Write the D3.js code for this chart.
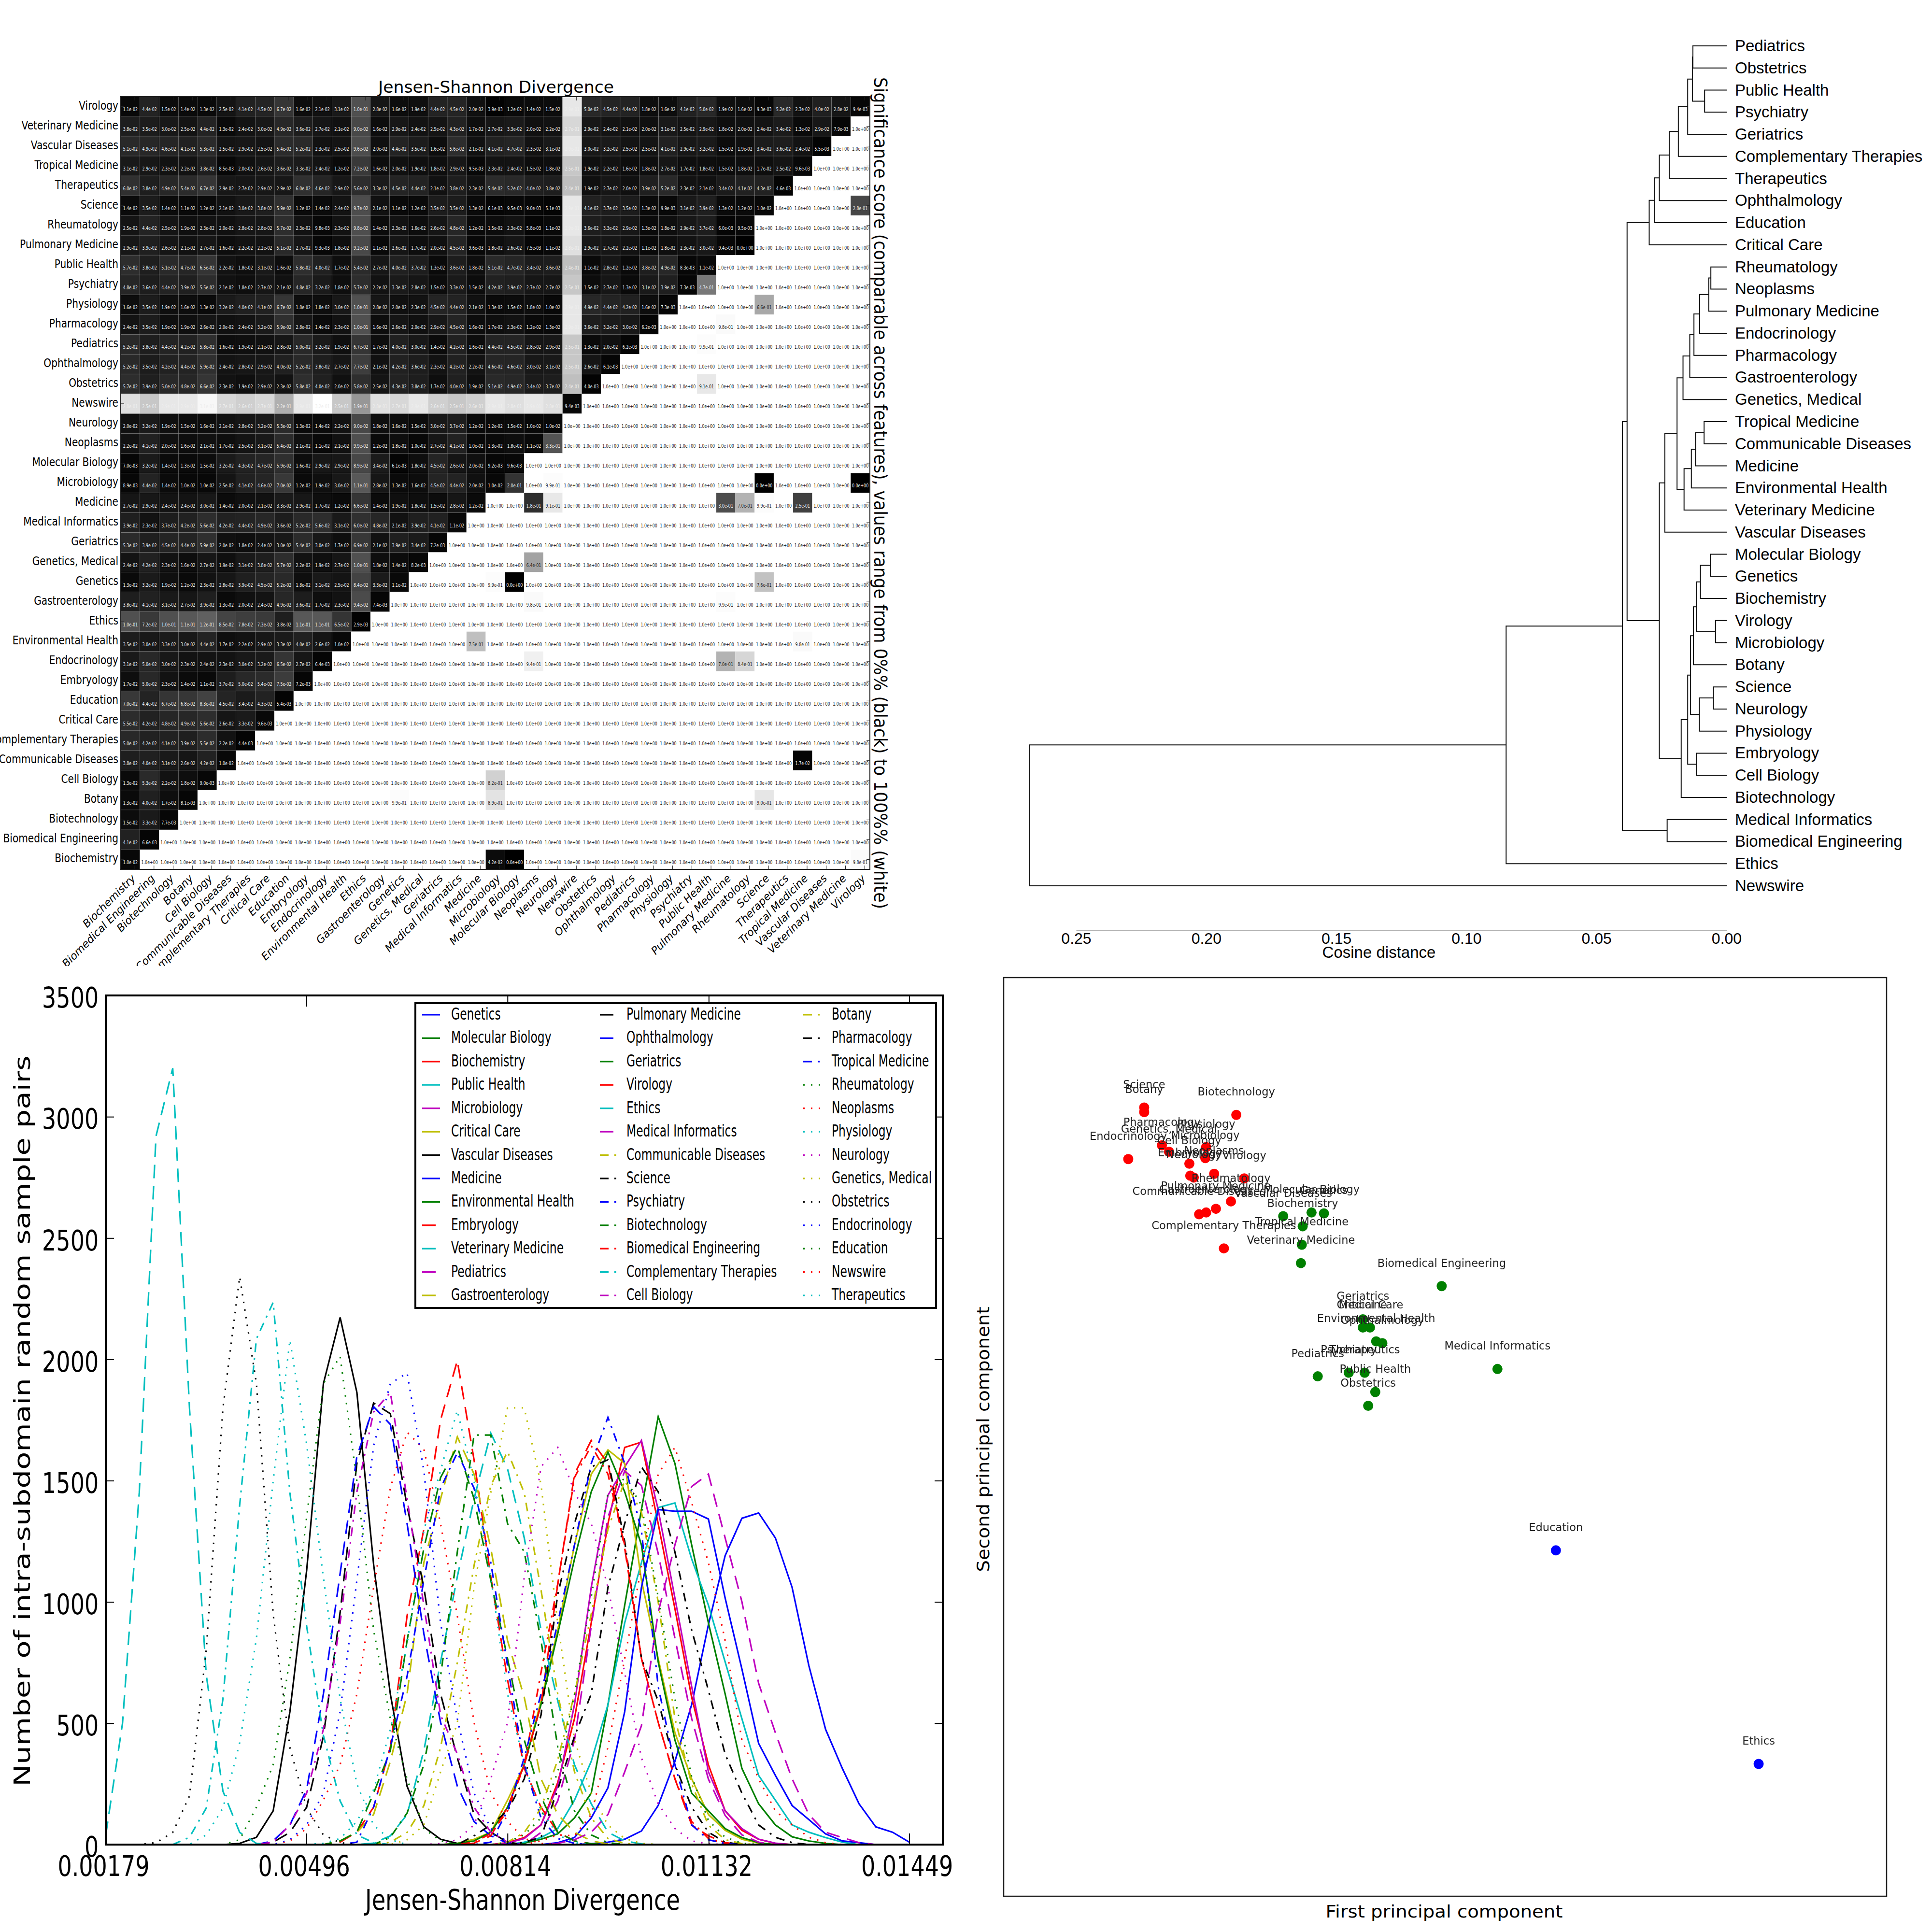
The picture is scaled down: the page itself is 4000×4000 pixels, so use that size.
<!DOCTYPE html>
<html>
<head>
<meta charset="utf-8">
<script src="https://cdn.jsdelivr.net/npm/d3@7/dist/d3.min.js"></script>
<style>
  html, body { margin: 0; padding: 0; background: #fff; }
  svg text { font-family: "DejaVu Sans", sans-serif; }
  .helv text { font-family: "Liberation Sans", sans-serif; }
</style>
</head>
<body>
<div id="canvas"></div>
<script>
"use strict"

/* heatmap categories */
let rowNames = ["Virology","Veterinary Medicine","Vascular Diseases","Tropical Medicine","Therapeutics","Science","Rheumatology","Pulmonary Medicine","Public Health","Psychiatry","Physiology","Pharmacology","Pediatrics","Ophthalmology","Obstetrics","Newswire","Neurology","Neoplasms","Molecular Biology","Microbiology","Medicine","Medical Informatics","Geriatrics","Genetics, Medical","Genetics","Gastroenterology","Ethics","Environmental Health","Endocrinology","Embryology","Education","Critical Care","Complementary Therapies","Communicable Diseases","Cell Biology","Botany","Biotechnology","Biomedical Engineering","Biochemistry"];
let colNames = rowNames.slice().reverse();

/* divergence values x 1000, one row per line, the upper left triangle only */
let divRows = [
  [11,44,15,14,13,25,41,45,67,16,21,31,100,28,16,19,44,45,20,3.9,12,14,15,290,50,45,44,18,16,41,50,19,16,9.3,52,23,40,28,9.4],
  [38,35,30,25,44,13,24,30,49,36,27,21,90,16,29,24,25,43,17,27,33,20,22,270,29,24,21,20,31,25,29,18,20,24,34,13,29,7.9],
  [51,49,46,41,53,25,29,25,54,52,23,25,96,20,44,35,16,56,21,41,47,23,31,290,30,32,25,25,41,29,32,15,19,34,36,24,5.5],
  [31,29,23,22,38,8.5,20,26,36,33,24,12,72,16,20,19,18,29,9.5,23,24,15,18,250,19,22,16,18,27,17,18,15,18,17,25,9.6],
  [60,38,49,54,67,29,27,29,29,60,46,29,56,33,45,44,21,38,23,54,52,40,38,240,19,27,20,39,52,23,21,34,41,43,4.6],
  [14,35,14,11,12,21,30,38,59,12,14,24,97,21,11,12,35,35,13,6.1,9.5,9.0,5.1,290,41,37,35,13,9.9,31,39,13,12,10],
  [25,44,25,19,23,20,28,28,57,23,9.8,23,98,14,23,16,26,48,12,15,23,5.8,11,290,36,33,29,13,18,29,37,6.0,9.5],
  [29,39,26,21,27,16,22,22,51,27,9.3,18,92,11,26,17,20,45,9.6,18,26,7.5,11,280,29,27,22,11,18,23,30,9.4],
  [57,38,51,47,65,22,18,31,16,58,40,17,54,27,40,37,13,36,18,51,47,34,36,240,11,28,12,38,49,8.3,11],
  [48,36,44,39,55,21,18,27,21,48,32,18,57,22,33,28,15,33,15,42,39,27,27,250,15,27,13,31,39,7.3],
  [16,35,19,16,13,32,40,41,67,18,18,30,100,28,20,23,45,44,21,13,15,18,10,290,49,44,42,16,7.3],
  [24,35,19,19,26,20,24,32,59,28,14,23,100,16,26,20,29,45,16,17,23,12,13,290,36,32,30,6.2],
  [52,38,44,42,58,16,19,21,28,50,32,19,67,17,40,30,14,42,16,44,45,28,29,250,13,20,6.2],
  [52,35,42,44,59,24,28,29,40,52,38,27,77,21,42,36,23,42,22,46,46,30,31,250,26,6.1],
  [57,39,50,48,66,23,19,29,23,58,40,20,58,25,43,38,17,40,19,51,49,34,37,240,4.0],
  [280,250,290,290,310,270,260,270,220,290,320,250,190,280,270,290,260,250,260,290,280,290,280,9.4],
  [20,32,19,15,16,21,28,32,53,13,14,22,90,18,16,15,30,37,12,12,15,10,10],
  [22,41,20,16,21,17,25,31,54,21,11,21,99,12,18,10,27,41,10,13,18,11],
  [7.0,32,14,13,15,32,43,47,59,16,29,29,89,34,6.1,18,45,26,20,9.2,9.6],
  [8.9,44,14,10,10,25,41,46,70,12,19,30,110,28,13,16,45,44,20,10],
  [27,29,24,24,30,14,20,21,33,29,17,12,66,14,19,18,15,28,12],
  [39,23,37,42,56,42,44,49,36,52,56,31,60,48,21,39,41,11],
  [53,39,45,44,59,20,18,24,30,54,30,17,69,21,39,34,7.2],
  [24,42,23,16,27,19,31,38,57,22,19,27,100,18,14,8.2],
  [13,32,19,12,23,28,39,45,52,18,31,25,84,33,11],
  [38,41,31,27,39,13,20,24,49,36,17,23,94,7.4],
  [100,72,100,110,120,85,78,73,38,110,110,65,2.9],
  [35,30,33,30,44,17,22,29,33,40,26,10],
  [31,50,30,23,24,23,30,32,65,27,6.4],
  [17,50,23,14,11,37,50,54,75,7.2],
  [70,44,67,68,83,45,34,43,5.4],
  [55,42,48,49,56,26,33,9.6],
  [50,42,41,39,55,22,4.4],
  [38,40,31,26,42,10],
  [13,53,22,18,9.0],
  [13,40,17,8.1],
  [15,33,7.7],
  [41,6.6],
  [10]
];

/* the few significance cells that are not 1.0: row, column, value */
let sigCells = [
  [5,38,0.28],[7,32,0],[9,30,0.47],[10,33,0.66],[11,31,0.98],[12,30,0.99],[14,30,0.91],
  [17,22,0.33],[19,20,0.20],[19,22,0.99],[19,33,0],[19,38,0],
  [20,21,0.18],[20,22,0.91],[20,31,0.30],[20,32,0.70],[20,33,0.99],[20,35,0.25],
  [23,21,0.64],[24,19,0.99],[24,20,0],[24,33,0.76],[25,21,0.98],[25,31,0.99],
  [27,18,0.75],[27,35,0.98],[28,21,0.94],[28,31,0.70],[28,32,0.84],
  [33,35,0.017],[34,19,0.82],[35,14,0.99],[35,19,0.89],[35,33,0.90],
  [38,19,0.042],[38,20,0],[38,38,0.98]
];

/* dendrogram leaves top to bottom */
let leafNames = ["Pediatrics","Obstetrics","Public Health","Psychiatry","Geriatrics","Complementary Therapies","Therapeutics","Ophthalmology","Education","Critical Care","Rheumatology","Neoplasms","Pulmonary Medicine","Endocrinology","Pharmacology","Gastroenterology","Genetics, Medical","Tropical Medicine","Communicable Diseases","Medicine","Environmental Health","Veterinary Medicine","Vascular Diseases","Molecular Biology","Genetics","Biochemistry","Virology","Microbiology","Botany","Science","Neurology","Physiology","Embryology","Cell Biology","Biotechnology","Medical Informatics","Biomedical Engineering","Ethics","Newswire"];

/* merges: two children (leaf name or earlier merge number) and distance */
let merges = [
  ["Pediatrics","Obstetrics",0.0130],
  ["Public Health","Psychiatry",0.0085],
  [0,1,0.0132],
  [2,"Geriatrics",0.0150],
  [3,"Complementary Therapies",0.0186],
  [4,"Therapeutics",0.0221],
  [5,"Ophthalmology",0.0259],
  [6,"Education",0.0278],
  [7,"Critical Care",0.0298],
  ["Rheumatology","Neoplasms",0.0061],
  [9,"Pulmonary Medicine",0.0069],
  [10,"Endocrinology",0.0104],
  [11,"Pharmacology",0.0126],
  [12,"Gastroenterology",0.0142],
  [13,"Genetics, Medical",0.0168],
  ["Tropical Medicine","Communicable Diseases",0.0087],
  [15,"Medicine",0.0120],
  [16,"Environmental Health",0.0136],
  [17,"Veterinary Medicine",0.0164],
  [14,18,0.0191],
  [19,"Vascular Diseases",0.0238],
  ["Molecular Biology","Genetics",0.0063],
  [21,"Biochemistry",0.0101],
  ["Virology","Microbiology",0.0043],
  [22,23,0.0117],
  [24,"Botany",0.0128],
  ["Science","Neurology",0.0051],
  [26,"Physiology",0.0105],
  [25,27,0.0139],
  ["Embryology","Cell Biology",0.0117],
  [28,29,0.0150],
  [30,"Biotechnology",0.0175],
  [20,31,0.0259],
  [8,32,0.0383],
  ["Medical Informatics","Biomedical Engineering",0.0229],
  [33,34,0.0401],
  [35,"Ethics",0.0848],
  [36,"Newswire",0.268]
];
let dendroTicks = [0.25,0.20,0.15,0.10,0.05,0.00];

/* histogram curves: first bin number, then counts per bin */
let curveGenetics = [29,[4,10,22,56,161,343,577,906,1191,1345,1367,1264,1060,738,475,314,168,73,51,10]];
let curveMolecular = [25,[6,22,44,110,212,577,987,1381,1764,1571,1235,914,621,314,168,81,32,15,5]];
let curveBiochemistry = [24,[8,29,81,256,519,914,1323,1637,1659,1323,972,607,329,139,59,22,5]];
let curvePublicHealth = [25,[10,29,66,183,343,577,914,1162,1389,1408,1177,987,753,519,285,183,81,51,29,10]];
let curveMicrobiology = [24,[6,25,81,241,577,1060,1440,1557,1666,1381,1016,651,300,139,66,22,6]];
let curveCriticalCare = [21,[5,22,51,183,329,592,884,1235,1527,1627,1571,1089,767,461,271,124,59,22,6]];
let curveVascular = [8,[5,30,139,548,1130,1900,2173,1864,1155,620,240,73,22,5]];
let curveMedicine = [27,[8,29,110,234,548,1060,1381,1374,1374,1342,1016,724,417,285,161,103,44,15,8]];
let curveEnvHealth = [21,[5,15,51,154,329,577,870,1177,1454,1618,1454,1235,753,431,212,139,66,29,8]];
let curveEmbryology = [14,[10,51,154,402,943,1300,1750,1995,1586,1104,680,314,154,51,15,3]];
let curveVeterinary = [16,[6,36,124,387,753,1104,1425,1696,1549,1264,884,592,329,168,51,15,3]];
let curvePediatrics = [26,[50,180,430,900,1350,1540,1480,1200,850,520,270,120,40,10]];
let curveGastro = [14,[15,51,124,343,621,1162,1425,1681,1527,1221,841,607,271,124,51,15,3]];
let curvePulmonary = [10,[10,50,154,446,957,1571,1820,1776,1396,1060,621,358,124,51,10]];
let curveOphthalmology = [10,[15,81,227,621,1118,1600,1805,1732,1323,870,504,241,95,36,6]];
let curveGeriatrics = [14,[15,51,212,387,841,1221,1513,1640,1425,1089,767,431,197,51,15,4]];
let curveVirology = [22,[6,36,154,329,577,1074,1527,1666,1571,1221,767,504,271,81,36,8]];
let curveEthics = [0,[40,500,1450,2920,3200,1800,700,220,50,5]];
let curveMedInformatics = [27,[5,20,51,124,300,490,957,1235,1476,1527,1264,1001,665,461,271,124,51,29,8]];
let curveCommunicable = [17,[10,50,160,400,750,1150,1480,1620,1450,1050,620,300,110,25,5]];
let curveScience = [22,[36,81,139,271,534,1031,1323,1557,1586,1250,767,592,329,154,51,10]];
let curvePsychiatry = [15,[10,154,402,694,1089,1469,1615,1469,1162,738,329,110,25,5]];
let curveBiotechnology = [17,[30,130,329,694,1206,1688,1688,1323,1206,841,402,139,40,8]];
let curveBiomedEng = [22,[10,45,139,329,709,1074,1513,1644,1527,1235,767,504,271,95,25,5]];
let curveComplementary = [5,[30,150,600,1400,2085,2235,1450,900,450,180,40,8]];
let curveCellBiology = [10,[10,81,212,475,914,1454,1783,1864,1425,987,534,373,154,51,10]];
let curveBotany = [24,[10,50,150,350,620,950,1300,1500,1370,1000,520,250,80,20,4]];
let curvePharmacology = [25,[10,30,227,446,621,1060,1323,1557,1454,1206,884,636,373,212,81,30,8]];
let curveTropical = [23,[10,139,358,621,914,1235,1571,1761,1571,1294,651,329,81,20,4]];
let curveRheumatology = [24,[10,40,110,300,620,1020,1450,1510,1400,1020,600,280,100,30,6]];
let curveNeoplasms = [11,[15,66,183,329,621,1060,1469,1700,1630,1323,943,504,212,95,25,5]];
let curvePhysiology = [13,[5,25,95,227,475,826,1294,1542,1790,1498,1100,621,329,139,40,8]];
let curveNeurology = [20,[4,20,81,271,504,1104,1557,1637,1454,1323,1060,709,358,168,66,15,3]];
let curveGeneticsMedical = [18,[20,80,300,500,1060,1450,1800,1800,1484,914,431,212,80,25,5]];
let curveObstetrics = [3,[8,50,200,800,1800,2340,1900,950,400,150,40,8]];
let curveEndocrinology = [11,[20,81,212,548,1089,1644,1900,1944,1542,914,519,212,66,10]];
let curveEducation = [8,[20,154,329,767,1350,1900,2012,1498,884,519,271,66,15]];
let curveNewswire = [26,[15,40,36,124,402,767,1148,1527,1637,1410,1162,841,431,271,139,81,30,8]];
let curveTherapeutics = [6,[40,150,420,850,1500,2080,1650,1100,600,250,80,20]];

let seriesNames = ["Genetics","Molecular Biology","Biochemistry","Public Health","Microbiology","Critical Care","Vascular Diseases","Medicine","Environmental Health","Embryology","Veterinary Medicine","Pediatrics","Gastroenterology","Pulmonary Medicine","Ophthalmology","Geriatrics","Virology","Ethics","Medical Informatics","Communicable Diseases","Science","Psychiatry","Biotechnology","Biomedical Engineering","Complementary Therapies","Cell Biology","Botany","Pharmacology","Tropical Medicine","Rheumatology","Neoplasms","Physiology","Neurology","Genetics, Medical","Obstetrics","Endocrinology","Education","Newswire","Therapeutics"];
let seriesCurves = [curveGenetics,curveMolecular,curveBiochemistry,curvePublicHealth,curveMicrobiology,curveCriticalCare,curveVascular,curveMedicine,curveEnvHealth,curveEmbryology,curveVeterinary,curvePediatrics,curveGastro,curvePulmonary,curveOphthalmology,curveGeriatrics,curveVirology,curveEthics,curveMedInformatics,curveCommunicable,curveScience,curvePsychiatry,curveBiotechnology,curveBiomedEng,curveComplementary,curveCellBiology,curveBotany,curvePharmacology,curveTropical,curveRheumatology,curveNeoplasms,curvePhysiology,curveNeurology,curveGeneticsMedical,curveObstetrics,curveEndocrinology,curveEducation,curveNewswire,curveTherapeutics];
let lineColors = ["#0000ff","#008000","#ff0000","#00bfbf","#bf00bf","#bfbf00","#000000"];
let xTicks = [0.00179,0.00496,0.00814,0.01132,0.01449];
let yTicks = [0,500,1000,1500,2000,2500,3000,3500];

/* PCA points, pc1 and pc2 in axis fractions, pc2 counted from the top */
let pcaNames = ["Science","Botany","Biotechnology","Pharmacology","Physiology","Genetics, Medical","Endocrinology","Microbiology","Cell Biology","Neoplasms","Embryology","Neurology","Virology","Rheumatology","Pulmonary Medicine","Communicable Diseases","Gastroenterology","Complementary Therapies","Vascular Diseases","Molecular Biology","Genetics","Biochemistry","Tropical Medicine","Veterinary Medicine","Biomedical Engineering","Geriatrics","Critical Care","Medicine","Environmental Health","Ophthalmology","Medical Informatics","Psychiatry","Therapeutics","Pediatrics","Public Health","Obstetrics","Education","Ethics"];
let pc1 = [.156,.156,.260,.176,.226,.184,.138,.225,.207,.235,.208,.212,.269,.254,.237,.218,.226,.246,.313,.345,.359,.335,.334,.333,.492,.403,.411,.403,.418,.425,.555,.387,.405,.352,.417,.409,.621,.850];
let pc2 = [.138,.143,.146,.179,.181,.186,.194,.193,.199,.210,.212,.214,.215,.240,.248,.254,.252,.291,.256,.252,.253,.267,.287,.307,.332,.368,.377,.377,.392,.394,.422,.426,.426,.430,.447,.462,.619,.851];
let pcaColors = ["red","red","red","red","red","red","red","red","red","red","red","red","red","red","red","red","red","red","green","green","green","green","green","green","green","green","green","green","green","green","green","green","green","green","green","green","blue","blue"];

/* canvas */
let drawing = d3.select("#canvas").append("svg")
  .attr("width", 4000)
  .attr("height", 4000)
  .style("display", "block");
drawing.append("rect").attr("width", 4000).attr("height", 4000).attr("fill", "white");

/* text squeezed sideways, the panels were resized unevenly */
function squeezed(group, str, x, y, size, sx, anchor, rotate, sy) {
  return group.append("text")
    .attr("transform", "translate(" + x + "," + y + ")" + (rotate ? " rotate(" + rotate + ")" : "") + " scale(" + sx + "," + (sy || 1) + ")")
    .attr("font-size", size)
    .attr("text-anchor", anchor || "start")
    .text(str);
}

/* ---------- heatmap ---------- */
let heat = drawing.append("g");
let xHeat = d3.scaleBand().domain(d3.range(39)).range([250, 1801]);
let yHeat = d3.scaleBand().domain(d3.range(39)).range([200, 1800]);
let sigLookup = new Map(sigCells.map(d => [d[0] + "_" + d[1], d[2]]));
let cells = [];
rowNames.forEach((name, r) => {
  colNames.forEach((cname, c) => {
    if (c < divRows[r].length) {
      let v = divRows[r][c] / 1000;
      cells.push({r: r, c: c, v: v, shade: Math.min(1, v / 0.32), ink: "#eeeeee"});
    } else {
      let key = r + "_" + c;
      let v = sigLookup.has(key) ? sigLookup.get(key) : 1;
      cells.push({r: r, c: c, v: v, shade: v, ink: v < 0.5 ? "#eeeeee" : "#222222"});
    }
  });
});
heat.selectAll("rect.cell").data(cells).join("rect")
  .attr("class", "cell")
  .attr("x", d => xHeat(d.c))
  .attr("y", d => yHeat(d.r))
  .attr("width", xHeat.bandwidth())
  .attr("height", yHeat.bandwidth())
  .attr("fill", d => d3.rgb(d.shade * 255, d.shade * 255, d.shade * 255).formatHex())
  .attr("stroke", "white")
  .attr("stroke-opacity", 0.14)
  .attr("stroke-width", 1);

function sciText(v) {
  let parts = v.toExponential(1).split("e");
  let sign = parts[1][0];
  let digits = parts[1].slice(1);
  return parts[0] + "e" + sign + (digits.length < 2 ? "0" + digits : digits);
}
heat.selectAll("text.val").data(cells).join("text")
  .attr("class", "val")
  .attr("transform", d => "translate(" + (xHeat(d.c) + xHeat.bandwidth() / 2) + "," + (yHeat(d.r) + 30) + ") scale(0.72,1)")
  .attr("font-size", 11)
  .attr("text-anchor", "middle")
  .attr("fill", d => d.ink)
  .text(d => sciText(d.v));

heat.append("rect")
  .attr("x", 250).attr("y", 200).attr("width", 1551).attr("height", 1600)
  .attr("fill", "none").attr("stroke", "#222").attr("stroke-width", 2);

/* heat ticks */
colNames.forEach((name, c) => {
  let tx = xHeat(c) + xHeat.bandwidth() * 0.73;
  heat.append("line").attr("x1", tx).attr("x2", tx).attr("y1", 1800).attr("y2", 1792).attr("stroke", "#222");
  heat.append("line").attr("x1", tx).attr("x2", tx).attr("y1", 200).attr("y2", 208).attr("stroke", "#222");
});
rowNames.forEach((name, r) => {
  let ty = yHeat(r) + yHeat.bandwidth() / 2;
  heat.append("line").attr("x1", 250).attr("x2", 257).attr("y1", ty).attr("y2", ty).attr("stroke", "#222");
  heat.append("line").attr("x1", 1801).attr("x2", 1794).attr("y1", ty).attr("y2", ty).attr("stroke", "#222");
  squeezed(heat, name, 245, ty + 6, 24, 0.84, "end");
});

/* rotated column labels, cut off at the bottom of the panel */
drawing.append("clipPath").attr("id", "heatClip").append("rect").attr("x", 0).attr("y", 1800).attr("width", 1900).attr("height", 200);
let colLabels = drawing.append("g").attr("clip-path", "url(#heatClip)");
colNames.forEach((name, c) => {
  let tx = xHeat(c) + xHeat.bandwidth() * 0.73;
  colLabels.append("text")
    .attr("transform", "translate(" + (tx + 3) + ",1820) rotate(-45)")
    .attr("font-size", 22)
    .attr("font-style", "italic")
    .attr("text-anchor", "end")
    .text(name);
});
drawing.append("text")
  .attr("x", 1027).attr("y", 192)
  .attr("font-size", 34)
  .attr("text-anchor", "middle")
  .attr("textLength", 488).attr("lengthAdjust", "spacingAndGlyphs")
  .text("Jensen-Shannon Divergence");
drawing.append("text")
  .attr("transform", "translate(1810,160) rotate(90)")
  .attr("font-size", 38)
  .attr("textLength", 1722).attr("lengthAdjust", "spacingAndGlyphs")
  .text("Significance score (comparable across features), values range from 0%% (black) to 100%% (white)");

/* ---------- dendrogram ---------- */
let dendro = drawing.append("g").attr("class", "helv");
let xDendro = d3.scaleLinear().domain([0, 0.25]).range([3575, 2228.5]);
let yDendro = d3.scalePoint().domain(leafNames).range([95, 1834]);
let nodePos = [];
function childPos(ch) {
  if (typeof ch === "string") return {x: xDendro(0), y: yDendro(ch)};
  return nodePos[ch];
}
merges.forEach(m => {
  let a = childPos(m[0]);
  let b = childPos(m[1]);
  let x = xDendro(m[2]);
  dendro.append("path")
    .attr("d", "M" + a.x + "," + a.y + "H" + x + "V" + b.y + "H" + b.x)
    .attr("fill", "none").attr("stroke", "#111").attr("stroke-width", 2);
  nodePos.push({x: x, y: (a.y + b.y) / 2});
});
leafNames.forEach(name => {
  dendro.append("text")
    .attr("x", 3592).attr("y", yDendro(name) + 11)
    .attr("font-size", 33)
    .text(name);
});
dendro.append("line")
  .attr("x1", xDendro(0.25)).attr("x2", xDendro(0))
  .attr("y1", 1927).attr("y2", 1927)
  .attr("stroke", "#999").attr("stroke-width", 1.5);
dendroTicks.forEach(t => {
  dendro.append("text")
    .attr("x", xDendro(t)).attr("y", 1954)
    .attr("font-size", 32)
    .attr("text-anchor", "middle")
    .text(t.toFixed(2));
});
dendro.append("text")
  .attr("x", 2855).attr("y", 1983)
  .attr("font-size", 33)
  .attr("text-anchor", "middle")
  .text("Cosine distance");

/* ---------- histogram lines ---------- */
let lines = drawing.append("g");
let xLine = d3.scaleLinear().domain([0.00179, 0.01502]).range([219, 1952]);
let yLine = d3.scaleLinear().domain([0, 3500]).range([3819, 2061]);
let binWidth = (0.01449 - 0.00179) / 48;
let lineGen = d3.line().x(d => xLine(d[0])).y(d => yLine(d[1]));

function dashFor(i) {
  if (i < 9) return null;
  if (i < 19) return "28,16";
  if (i < 29) return "18,12,4,12";
  return "3,13";
}
seriesCurves.forEach((curve, i) => {
  /* bins outside the curve are empty */
  let pts = d3.range(49).map(k => {
    let at = k - curve[0];
    let count = at >= 0 && at < curve[1].length ? curve[1][at] : 0;
    return [0.00179 + k * binWidth, count];
  });
  lines.append("path")
    .attr("d", lineGen(pts))
    .attr("fill", "none")
    .attr("stroke", lineColors[i % 7])
    .attr("stroke-width", 3.2)
    .attr("stroke-dasharray", dashFor(i));
});

function lineAxis(axis, tx, ty, labelled, labelShift) {
  let g = lines.append("g").attr("transform", "translate(" + tx + "," + ty + ")").call(axis);
  g.select(".domain").remove();
  g.selectAll(".tick line").attr("stroke", "#000").attr("stroke-width", 2);
  if (labelled) {
    g.selectAll(".tick text")
      .attr("transform", "translate(" + labelShift + ",0) scale(0.78,1)")
      .attr("font-size", 59)
      .attr("font-family", "DejaVu Sans")
      .attr("fill", "#000");
  }
  return g;
}
lineAxis(d3.axisBottom(xLine).tickValues(xTicks).tickFormat(d3.format(".5f")).tickSizeInner(-23).tickSizeOuter(0).tickPadding(23), 0, 3819, true, -5);
lineAxis(d3.axisTop(xLine).tickValues(xTicks).tickFormat("").tickSizeInner(-23).tickSizeOuter(0), 0, 2061, false);
lineAxis(d3.axisLeft(yLine).tickValues(yTicks).tickFormat(d3.format("d")).tickSizeInner(-17).tickSizeOuter(0).tickPadding(19), 219, 0, true, 0)
  .selectAll(".tick text").attr("dy", "0.42em");
lineAxis(d3.axisRight(yLine).tickValues(yTicks).tickFormat("").tickSizeInner(-17).tickSizeOuter(0), 1952, 0, false);
lines.append("rect")
  .attr("x", 219).attr("y", 2061).attr("width", 1733).attr("height", 1758)
  .attr("fill", "none").attr("stroke", "#000").attr("stroke-width", 4);
squeezed(lines, "Jensen-Shannon Divergence", 1082, 3954, 59, 0.785, "middle");
squeezed(lines, "Number of intra-subdomain random sample pairs", 62, 2942, 59, 1.036, "middle", -90, 0.78);

/* legend */
let legend = lines.append("g");
legend.append("rect")
  .attr("x", 860).attr("y", 2077).attr("width", 1078).attr("height", 631)
  .attr("fill", "white").attr("stroke", "#000").attr("stroke-width", 4);
let legendRowY = d3.scaleLinear().domain([0, 12]).range([2100, 2681]);
let legendCols = [[874, 911, 934], [1242, 1277, 1297], [1663, 1699, 1722]];
seriesNames.forEach((name, i) => {
  let col = legendCols[Math.floor(i / 13)];
  let ly = legendRowY(i % 13);
  legend.append("line")
    .attr("x1", col[0]).attr("x2", col[1])
    .attr("y1", ly + 1).attr("y2", ly + 1)
    .attr("stroke", lineColors[i % 7])
    .attr("stroke-width", 3.2)
    .attr("stroke-dasharray", dashFor(i));
  squeezed(legend, name, col[2], ly + 11, 33, 0.71);
});

/* ---------- PCA scatter ---------- */
let scatter = drawing.append("g");
let xPca = d3.scaleLinear().domain([0, 1]).range([2083, 3916]);
let yPca = d3.scaleLinear().domain([0, 1]).range([2030, 3936]);
scatter.append("rect")
  .attr("x", 2078).attr("y", 2024).attr("width", 1828).attr("height", 1902)
  .attr("fill", "none").attr("stroke", "#222").attr("stroke-width", 2.5);
let marks = scatter.append("g").style("filter", "blur(0.7px)");
marks.selectAll("circle").data(pcaNames).join("circle")
  .attr("cx", (d, i) => xPca(pc1[i]))
  .attr("cy", (d, i) => yPca(pc2[i]))
  .attr("r", 10.5)
  .attr("fill", (d, i) => pcaColors[i]);
marks.selectAll("text").data(pcaNames).join("text")
  .attr("x", (d, i) => xPca(pc1[i]))
  .attr("y", (d, i) => yPca(pc2[i]) - 40)
  .attr("font-size", 22.5)
  .attr("text-anchor", "middle")
  .attr("fill", "#222")
  .text(d => d);
scatter.append("text")
  .attr("x", 2990).attr("y", 3970)
  .attr("font-size", 35)
  .attr("text-anchor", "middle")
  .attr("textLength", 491).attr("lengthAdjust", "spacingAndGlyphs")
  .text("First principal component");
scatter.append("text")
  .attr("transform", "translate(2048,2980) rotate(-90)")
  .attr("font-size", 35)
  .attr("text-anchor", "middle")
  .attr("textLength", 549).attr("lengthAdjust", "spacingAndGlyphs")
  .text("Second principal component");
</script>
</body>
</html>
